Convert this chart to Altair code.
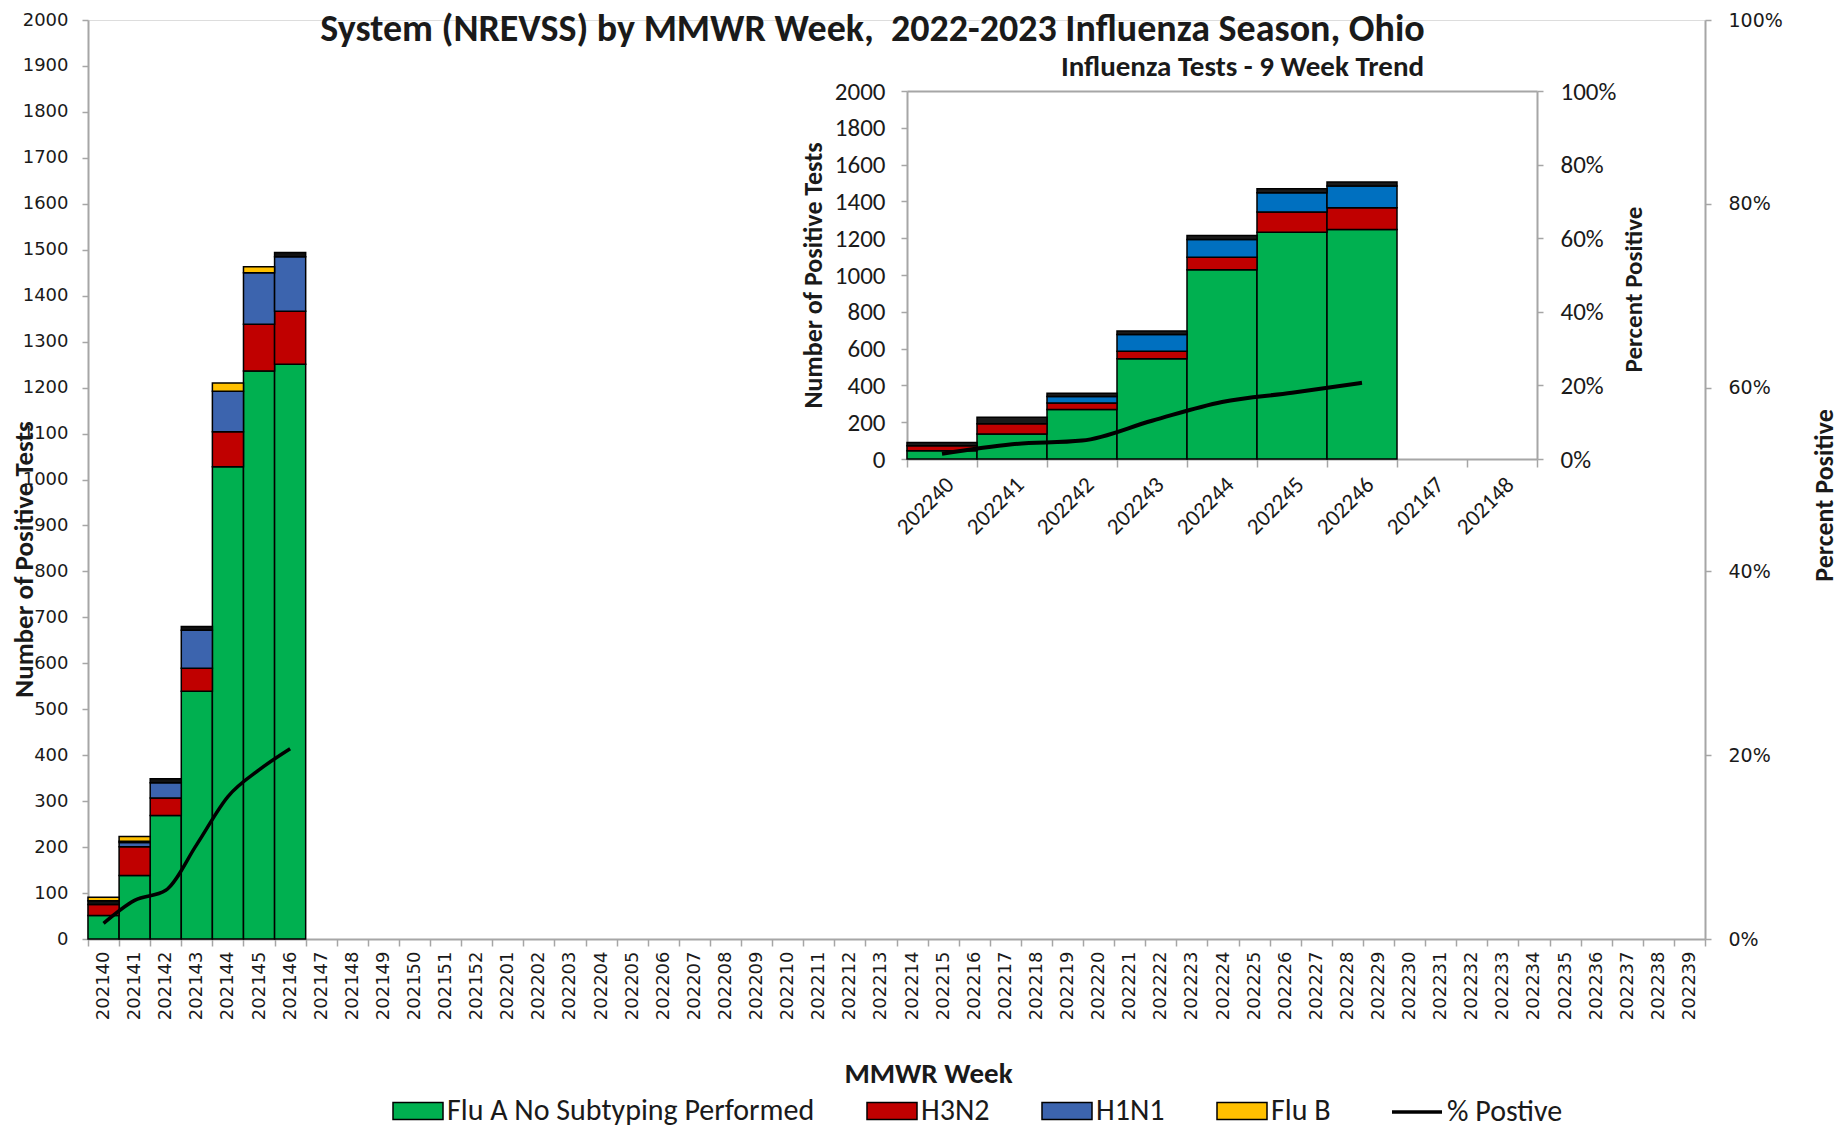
import altair as alt
import pandas as pd

# ---------------- data ----------------
weeks = [str(w) for w in list(range(202140, 202153)) + list(range(202201, 202240))]
data_weeks = ["202140", "202141", "202142", "202143", "202144", "202145", "202146"]
series_names = ["Flu A No Subtyping Performed", "H3N2", "H1N1", "Other", "Flu B"]
flu_a_nosub = [51, 138, 269, 539, 1028, 1236, 1251]
h3n2 = [24, 63, 38, 50, 76, 102, 115]
h1n1 = [0, 9, 33, 83, 88, 112, 119]
other = [8, 3, 9, 8, 0, 0, 9]
flu_b = [8, 10, 0, 0, 18, 13, 0]
pct_positive = [1.7, 4.2, 5.3, 10.3, 15.5, 18.4, 20.7]

inset_weeks = ["202240", "202241", "202242", "202243", "202244", "202245", "202246", "202147", "202148"]
inset_data_weeks = inset_weeks[:7]
inset_series = ["Flu A No Subtyping Performed", "H3N2", "H1N1", "Flu B"]
inset_flu_a = [45, 136, 269, 545, 1029, 1233, 1247]
inset_h3n2 = [27, 55, 36, 40, 67, 109, 118]
inset_h1n1 = [0, 0, 35, 91, 97, 105, 119]
inset_flu_b = [18, 36, 18, 20, 22, 22, 21]
inset_pct = [1.4, 4.0, 5.0, 10.4, 15.5, 18.0, 20.7]

main_title = "System (NREVSS) by MMWR Week,\u00a0 2022-2023 Influenza Season, Ohio"
inset_title = "Influenza Tests - 9 Week Trend"

# ---------------- tables ----------------
rows = []
for idx, (name, vals) in enumerate(zip(series_names, [flu_a_nosub, h3n2, h1n1, other, flu_b])):
    for wk, v in zip(data_weeks, vals):
        if v > 0:
            rows.append({"week": wk, "series": name, "count": v, "idx": idx})
main_df = pd.DataFrame(rows)
line_df = pd.DataFrame({"week": data_weeks, "pct": [p / 100 for p in pct_positive], "label": "% Postive"})

rows = []
for idx, (name, vals) in enumerate(zip(inset_series, [inset_flu_a, inset_h3n2, inset_h1n1, inset_flu_b])):
    for wk, v in zip(inset_data_weeks, vals):
        if v > 0:
            rows.append({"week": wk, "series": name, "count": v, "idx": idx})
inset_df = pd.DataFrame(rows)
inset_line_df = pd.DataFrame({"week": inset_data_weeks, "pct": [p / 100 for p in inset_pct]})

# ---------------- styling ----------------
W, H = 1617, 919
NARROW = "Carlito, Liberation Sans Narrow, Lato, sans-serif"
VERD = "DejaVu Sans, Verdana, sans-serif"
AX = "#A6A6A6"
TXT = "#1a1a1a"

# inset plot area in plot coordinates
IX0, IX1, IY0, IY1 = 819, 1449, 71, 439

main_x_scale = alt.Scale(domain=weeks, paddingInner=0, paddingOuter=0)
inset_x_scale = alt.Scale(domain=inset_weeks, paddingInner=0, paddingOuter=0, range=[IX0, IX1])

bars = alt.Chart(main_df).mark_bar(stroke="black", strokeWidth=1.5).encode(
    x=alt.X("week:N", scale=main_x_scale, sort=weeks,
            axis=alt.Axis(title="MMWR Week", labelAngle=270, labelFont=VERD, labelFontSize=18,
                          labelColor=TXT, labelPadding=5, labelOverlap=False, tickBand="extent",
                          tickSize=7, tickColor=AX, tickWidth=1.5, domainColor=AX, domainWidth=2,
                          titleFont=NARROW, titleFontSize=29, titleFontWeight="bold", titleColor=TXT,
                          titleX=840, titleY=134, titleAlign="center", titleBaseline="middle")),
    y=alt.Y("count:Q", stack="zero", scale=alt.Scale(domain=[0, 2000], nice=False),
            axis=alt.Axis(values=list(range(0, 2001, 100)), format="d", grid=False, labelFont=VERD,
                          labelFontSize=18, labelColor=TXT, labelPadding=14, tickSize=6, tickColor=AX,
                          tickWidth=1.5, domainColor=AX, domainWidth=2, title="Number of Positive Tests",
                          titleFont=NARROW, titleFontSize=27, titleFontWeight="bold", titleColor=TXT,
                          titleX=-64, titleY=539, titleAngle=270, titleAlign="center",
                          titleBaseline="middle")),
    fill=alt.Fill("series:N",
                  scale=alt.Scale(domain=["Flu A No Subtyping Performed", "H3N2", "H1N1", "Flu B", "Other"],
                                  range=["#00B050", "#C00000", "#3C64AE", "#FFC000", "#111111"]),
                  legend=alt.Legend(orient="none", legendX=304, legendY=1065, direction="horizontal",
                                    values=["Flu A No Subtyping Performed", "H3N2", "H1N1", "Flu B"],
                                    title=None, symbolType="M-1,-0.34L1,-0.34L1,0.34L-1,0.34Z",
                                    symbolSize=2500, symbolStrokeColor="black", symbolStrokeWidth=1.5,
                                    symbolOpacity=1, labelFont=NARROW, labelFontSize=30, labelColor=TXT,
                                    labelOffset=3, columnPadding=49, labelLimit=600)),
    order=alt.Order("idx:Q"),
)

line = alt.Chart(line_df).mark_line(strokeWidth=3.5, interpolate="monotone").encode(
    x=alt.X("week:N", scale=main_x_scale, sort=weeks,
            axis=alt.Axis(orient="top", labels=False, ticks=False, domain=False, title=main_title,
                          titleFont=NARROW, titleFontSize=38, titleFontWeight="bold", titleColor=TXT,
                          titleX=784, titleY=20, titleAlign="center", titleBaseline="alphabetic")),
    y=alt.Y("pct:Q", scale=alt.Scale(domain=[0, 1], nice=False),
            axis=alt.Axis(orient="right", format=".0%", values=[0, 0.2, 0.4, 0.6, 0.8, 1.0], grid=False,
                          labelFont=VERD, labelFontSize=19, labelColor=TXT, labelPadding=17, tickSize=6,
                          tickColor=AX, tickWidth=1.5, domainColor=AX, domainWidth=2,
                          title="Percent Positive", titleFont=NARROW, titleFontSize=26,
                          titleFontWeight="bold", titleColor=TXT, titleX=119, titleY=475,
                          titleAngle=270, titleAlign="center", titleBaseline="middle")),
    stroke=alt.Stroke("label:N", scale=alt.Scale(domain=["% Postive"], range=["black"]),
                      legend=alt.Legend(orient="none", legendX=1302, legendY=1065, title=None,
                                        symbolType="stroke", symbolSize=2500, symbolStrokeWidth=3.5,
                                        labelFont=NARROW, labelFontSize=30, labelColor=TXT,
                                        labelOffset=3, labelLimit=400)),
)

inset_bars = alt.Chart(inset_df).mark_bar(stroke="black", strokeWidth=1.5).encode(
    x=alt.X("week:N", scale=inset_x_scale, sort=inset_weeks,
            axis=alt.Axis(orient="bottom", offset=-(H - IY1), title=None, labelAngle=315,
                          labelAlign="right", labelBaseline="top", labelFont=NARROW, labelFontSize=23,
                          labelColor=TXT, labelPadding=6, labelOverlap=False, tickBand="extent",
                          tickSize=8, tickColor=AX, tickWidth=1.5, domainColor=AX, domainWidth=2)),
    y=alt.Y("count:Q", stack="zero", scale=alt.Scale(domain=[0, 2000], nice=False, range=[IY1, IY0]),
            axis=alt.Axis(orient="left", offset=-IX0, values=list(range(0, 2001, 200)), format="d",
                          grid=False, labelFont=NARROW, labelFontSize=25, labelColor=TXT, labelPadding=16,
                          tickSize=6, tickColor=AX, tickWidth=1.5, domainColor=AX, domainWidth=2,
                          title="Number of Positive Tests", titleFont=NARROW, titleFontSize=26,
                          titleFontWeight="bold", titleColor=TXT, titleX=-94, titleY=(IY0 + IY1) / 2,
                          titleAngle=270, titleAlign="center", titleBaseline="middle")),
    fill=alt.Fill("series:N",
                  scale=alt.Scale(domain=inset_series, range=["#00B050", "#C00000", "#0070C0", "#1A1A1A"]),
                  legend=None),
    order=alt.Order("idx:Q"),
)

inset_line = alt.Chart(inset_line_df).mark_line(strokeWidth=4, interpolate="monotone", color="black").encode(
    x=alt.X("week:N", scale=inset_x_scale, sort=inset_weeks,
            axis=alt.Axis(orient="top", offset=-IY0, labels=False, ticks=False, domainColor=AX,
                          domainWidth=2, title=inset_title, titleFont=NARROW,
                          titleFontSize=29, titleFontWeight="bold", titleColor=TXT,
                          titleX=1154, titleY=-25, titleAlign="center", titleBaseline="middle")),
    y=alt.Y("pct:Q", scale=alt.Scale(domain=[0, 1], nice=False, range=[IY1, IY0]),
            axis=alt.Axis(orient="right", offset=-(W - IX1), format=".0%",
                          values=[0, 0.2, 0.4, 0.6, 0.8, 1.0], grid=False, labelFont=NARROW,
                          labelFontSize=25, labelColor=TXT, labelPadding=17, tickSize=6, tickColor=AX,
                          tickWidth=1.5, domainColor=AX, domainWidth=2, title="Percent Positive",
                          titleFont=NARROW, titleFontSize=25, titleFontWeight="bold", titleColor=TXT,
                          titleX=96, titleY=269, titleAngle=270, titleAlign="center",
                          titleBaseline="middle")),
)

chart = alt.layer(bars, line, inset_bars, inset_line).resolve_scale(
    x="independent", y="independent", fill="independent", stroke="independent"
).properties(
    width=W, height=H,
    autosize=alt.AutoSizeParams(type="none"),
    padding={"left": 80, "top": 12, "right": 134, "bottom": 189},
).configure_view(stroke=None).configure(background="white")

chart.save("out.html", embed_options={"renderer": "svg", "actions": False})
